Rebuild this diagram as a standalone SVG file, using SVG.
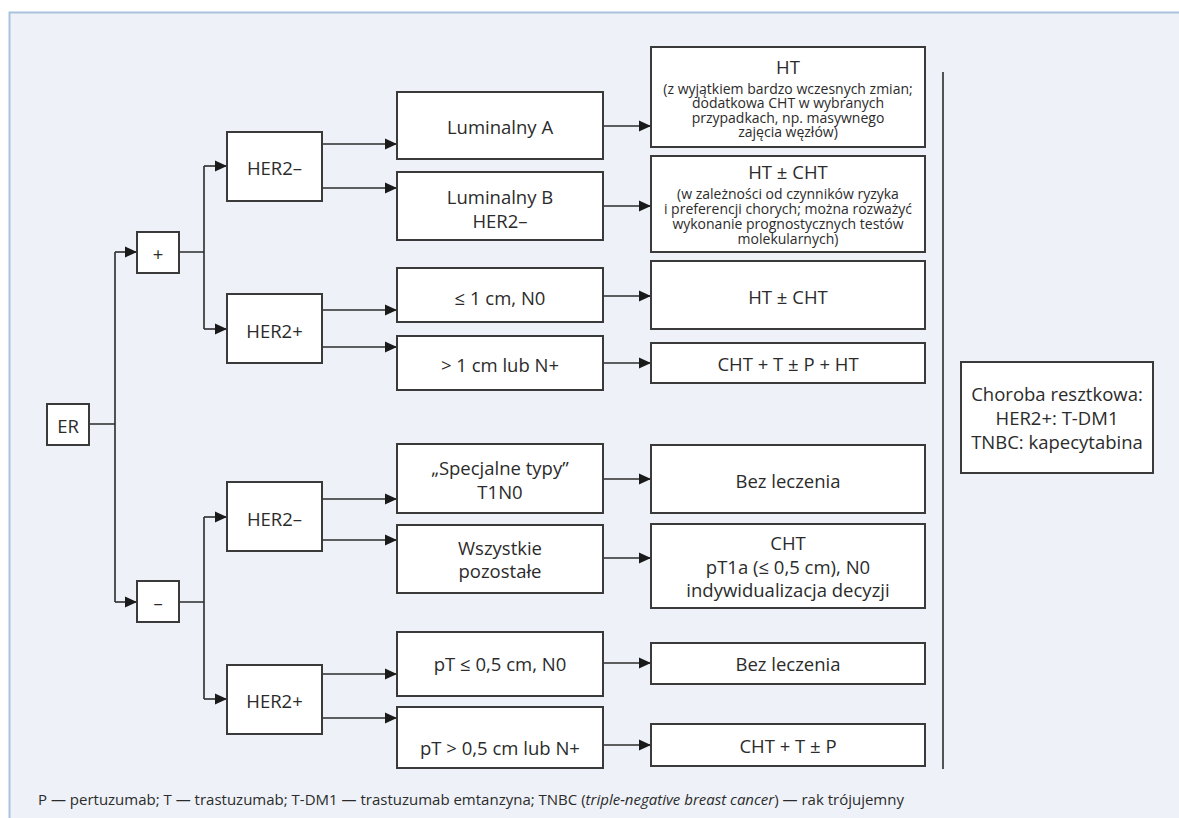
<svg xmlns="http://www.w3.org/2000/svg" width="1179" height="818" viewBox="0 0 1179 818">
<defs>
<marker id="ah" markerUnits="userSpaceOnUse" markerWidth="13" markerHeight="12" refX="12" refY="6" orient="auto">
<path d="M0,0.5 L12,6 L0,11.5 z" fill="#1a1a1a"/>
</marker>
<style>
.box{fill:#ffffff;stroke:#3a3a3a;stroke-width:2}
.t{font-family:"Open Sans","Noto Sans",sans-serif;font-size:18.5px;fill:#2b2b2b;text-anchor:middle;dominant-baseline:central}
.s{font-size:14px}
.c{fill:none;stroke:#2b2b2b;stroke-width:1.6}
.a{marker-end:url(#ah)}
.foot{font-family:"Open Sans","Noto Sans",sans-serif;font-size:15px;fill:#2b2b2b}
</style>
</defs>
<rect x="0" y="0" width="1179" height="818" fill="#ffffff"/>
<rect x="9.5" y="12.5" width="1190" height="830" fill="#eef2f8" stroke="#a9c3df" stroke-width="2"/>

<g id="connectors">
<path class="c" d="M89,424 H115 M115,252 V602"/>
<path class="c a" d="M115,252 H137"/>
<path class="c a" d="M115,602 H137"/>
<path class="c" d="M179,252 H204 M204,166 V329 M179,602 H204 M204,517 V699"/>
<path class="c a" d="M204,166 H227"/>
<path class="c a" d="M204,329 H227"/>
<path class="c a" d="M204,517 H227"/>
<path class="c a" d="M204,699 H227"/>
<path class="c a" d="M322,144 H397"/>
<path class="c a" d="M322,188 H397"/>
<path class="c a" d="M322,310 H397"/>
<path class="c a" d="M322,347 H397"/>
<path class="c a" d="M322,499 H397"/>
<path class="c a" d="M322,540 H397"/>
<path class="c a" d="M322,674 H397"/>
<path class="c a" d="M322,718 H397"/>
<path class="c a" d="M603,126 H651"/>
<path class="c a" d="M603,206 H651"/>
<path class="c a" d="M603,296 H651"/>
<path class="c a" d="M603,363 H651"/>
<path class="c a" d="M603,479 H651"/>
<path class="c a" d="M603,558 H651"/>
<path class="c a" d="M603,663 H651"/>
<path class="c a" d="M603,745 H651"/>
<path class="c" d="M943,72 V769"/>
</g>

<g id="er"><rect class="box" x="47" y="404" width="42" height="41"/><text class="t" x="68" y="425">ER</text></g>
<g id="plus"><rect class="box" x="137" y="232" width="42" height="41"/><text class="t" x="158" y="253">+</text></g>
<g id="minus"><rect class="box" x="137" y="581" width="42" height="41"/><text class="t" x="158" y="602">–</text></g>

<g id="her2neg-a"><rect class="box" x="227" y="132" width="95" height="69"/><text class="t" x="274.5" y="167">HER2–</text></g>
<g id="her2pos-a"><rect class="box" x="227" y="294" width="95" height="69"/><text class="t" x="274.5" y="330">HER2+</text></g>
<g id="her2neg-b"><rect class="box" x="227" y="482" width="95" height="69"/><text class="t" x="274.5" y="518">HER2–</text></g>
<g id="her2pos-b"><rect class="box" x="227" y="665" width="95" height="69"/><text class="t" x="274.5" y="700">HER2+</text></g>

<g id="lumA"><rect class="box" x="397" y="92" width="206" height="67"/><text class="t" x="500" y="126">Luminalny A</text></g>
<g id="lumB"><rect class="box" x="397" y="172" width="206" height="68"/><text class="t" x="500" y="196">Luminalny B</text><text class="t" x="500" y="220">HER2–</text></g>
<g id="le1cm"><rect class="box" x="397" y="268" width="206" height="54"/><text class="t" x="500" y="297">≤ 1 cm, N0</text></g>
<g id="gt1cm"><rect class="box" x="397" y="336" width="206" height="54"/><text class="t" x="500" y="364">&gt; 1 cm lub N+</text></g>
<g id="spec"><rect class="box" x="397" y="444" width="206" height="69"/><text class="t" x="500" y="467">„Specjalne typy”</text><text class="t" x="500" y="491">T1N0</text></g>
<g id="wsz"><rect class="box" x="397" y="525" width="206" height="68"/><text class="t" x="500" y="547">Wszystkie</text><text class="t" x="500" y="570">pozostałe</text></g>
<g id="pt-le05"><rect class="box" x="397" y="632" width="206" height="64"/><text class="t" x="500" y="663">pT ≤ 0,5 cm, N0</text></g>
<g id="pt-gt05"><rect class="box" x="397" y="707" width="206" height="61"/><text class="t" x="500" y="747">pT &gt; 0,5 cm lub N+</text></g>

<g id="ht"><rect class="box" x="651" y="47" width="274" height="100"/>
<text class="t" x="788" y="66">HT</text>
<text class="t s" x="788" y="88">(z wyjątkiem bardzo wczesnych zmian;</text>
<text class="t s" x="788" y="102.5">dodatkowa CHT w wybranych</text>
<text class="t s" x="788" y="117">przypadkach, np. masywnego</text>
<text class="t s" x="788" y="131">zajęcia węzłów)</text></g>
<g id="htcht-a"><rect class="box" x="651" y="156" width="274" height="96"/>
<text class="t" x="788" y="171">HT ± CHT</text>
<text class="t s" x="788" y="193">(w zależności od czynników ryzyka</text>
<text class="t s" x="788" y="208">i preferencji chorych; można rozważyć</text>
<text class="t s" x="788" y="223">wykonanie prognostycznych testów</text>
<text class="t s" x="788" y="238">molekularnych)</text></g>
<g id="htcht-b"><rect class="box" x="651" y="261" width="274" height="68"/><text class="t" x="788" y="296">HT ± CHT</text></g>
<g id="cht-t-p-ht"><rect class="box" x="651" y="343" width="274" height="40"/><text class="t" x="788" y="363">CHT + T ± P + HT</text></g>
<g id="bez-a"><rect class="box" x="651" y="445" width="274" height="68"/><text class="t" x="788" y="480">Bez leczenia</text></g>
<g id="cht"><rect class="box" x="651" y="524" width="274" height="84"/>
<text class="t" x="788" y="542">CHT</text>
<text class="t" x="788" y="566">pT1a (≤ 0,5 cm), N0</text>
<text class="t" x="788" y="589">indywidualizacja decyzji</text></g>
<g id="bez-b"><rect class="box" x="651" y="643" width="274" height="41"/><text class="t" x="788" y="663">Bez leczenia</text></g>
<g id="cht-t-p"><rect class="box" x="651" y="724" width="274" height="42"/><text class="t" x="788" y="745">CHT + T ± P</text></g>

<g id="choroba"><rect class="box" x="961" y="362" width="192" height="111"/>
<text class="t" x="1057" y="393">Choroba resztkowa:</text>
<text class="t" x="1057" y="417">HER2+: T-DM1</text>
<text class="t" x="1057" y="441">TNBC: kapecytabina</text></g>

<text class="foot" x="38" y="805">P — pertuzumab; T — trastuzumab; T-DM1 — trastuzumab emtanzyna; TNBC (<tspan font-style="italic">triple-negative breast cancer</tspan>) — rak trójujemny</text>
</svg>
